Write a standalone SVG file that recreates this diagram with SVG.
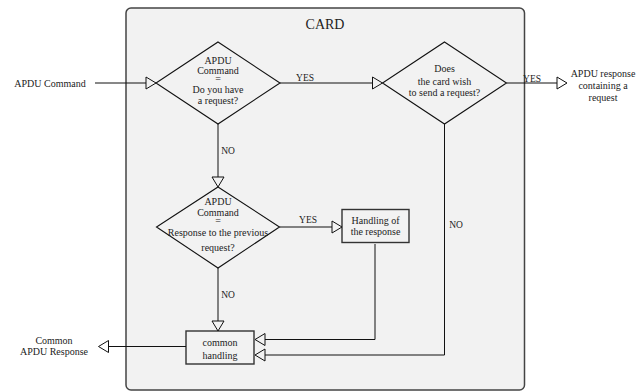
<svg xmlns="http://www.w3.org/2000/svg" width="644" height="392" viewBox="0 0 644 392">
<style>
text{font-family:"Liberation Serif","Times New Roman",serif;font-size:10px;fill:#222;text-anchor:middle}
.title{font-size:14px}
.lbl{font-size:9.5px}
.dia{fill:none;stroke:#111;stroke-width:1.1}
.box{fill:none;stroke:#333;stroke-width:1.4}
.con{fill:none;stroke:#111;stroke-width:1}
</style>
<defs>
<marker id="tri" markerUnits="userSpaceOnUse" markerWidth="12" markerHeight="14" refX="0" refY="7" orient="auto" viewBox="-1 0 12 14">
<path d="M0,1 L10,7 L0,13 Z" fill="none" stroke="#111" stroke-width="1"/>
</marker>
</defs>
<rect width="644" height="392" fill="#fff"/>
<g id="card">
<rect x="126" y="8" width="398.5" height="382" rx="5" fill="#f2f2f2" stroke="#444" stroke-width="1.5"/>
<text class="title" x="325" y="29">CARD</text>
</g>
<g id="input">
<text x="50" y="86.5">APDU Command</text>
</g>
<g id="output-request">
<text x="603" y="77">APDU response</text>
<text x="603" y="89">containing a</text>
<text x="603" y="100.5">request</text>
</g>
<g id="output-common">
<text x="54" y="343.5">Common</text>
<text x="54" y="354.5">APDU Response</text>
</g>
<g id="d1">
<polygon class="dia" points="218,42 280,83 218,124 156,83"/>
<text x="218" y="63.5">APDU</text>
<text x="218" y="74">Command</text>
<text x="218" y="81.5">=</text>
<text x="218" y="92.5">Do you have</text>
<text x="218" y="103.5">a request?</text>
</g>
<g id="d2">
<polygon class="dia" points="444.5,42 506.5,83 444.5,124 382.5,83"/>
<text x="444.5" y="72">Does</text>
<text x="444.5" y="85">the card wish</text>
<text x="444.5" y="96">to send a request?</text>
</g>
<g id="d3">
<polygon class="dia" points="218,187 279.5,227 218,268 156.5,227"/>
<text x="218" y="205">APDU</text>
<text x="218" y="216">Command</text>
<text x="218" y="224">=</text>
<text x="218" y="236">Response to the previous</text>
<text x="218" y="251">request?</text>
</g>
<g id="handling">
<rect class="box" x="342" y="209.5" width="67" height="33"/>
<text x="375.5" y="223.5">Handling of</text>
<text x="375.5" y="234.5">the response</text>
</g>
<g id="common">
<rect class="box" x="186" y="331" width="68" height="33"/>
<text x="220" y="345.5">common</text>
<text x="220" y="359">handling</text>
</g>
<g id="connectors">
<line class="con" x1="95" y1="83" x2="146" y2="83" marker-end="url(#tri)"/>
<line class="con" x1="280" y1="83" x2="372.5" y2="83" marker-end="url(#tri)"/>
<text class="lbl" x="305" y="81">YES</text>
<line class="con" x1="506.5" y1="83" x2="557" y2="83" marker-end="url(#tri)"/>
<text class="lbl" x="532" y="81.5">YES</text>
<line class="con" x1="218" y1="124" x2="218" y2="177" marker-end="url(#tri)"/>
<text class="lbl" x="228" y="154">NO</text>
<line class="con" x1="279.5" y1="227" x2="332" y2="227" marker-end="url(#tri)"/>
<text class="lbl" x="308" y="223">YES</text>
<line class="con" x1="218" y1="268" x2="218" y2="321" marker-end="url(#tri)"/>
<text class="lbl" x="228" y="297.5">NO</text>
<polyline class="con" points="375,244 375,339.5 265,339.5" marker-end="url(#tri)"/>
<polyline class="con" points="444.5,124 444.5,355 265,355" marker-end="url(#tri)"/>
<text class="lbl" x="456" y="227.5">NO</text>
<line class="con" x1="186" y1="346.5" x2="108.5" y2="346.5" marker-end="url(#tri)"/>
</g>
</svg>
